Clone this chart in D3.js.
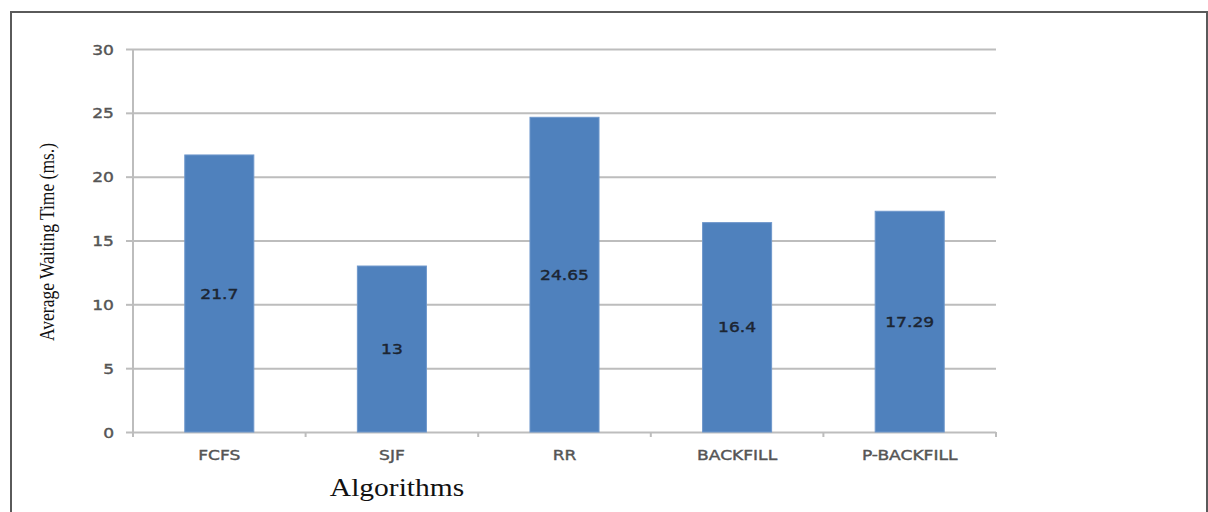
<!DOCTYPE html>
<html>
<head>
<meta charset="utf-8">
<script src="https://cdn.jsdelivr.net/npm/d3@7"></script>
<style>
  html, body { margin: 0; padding: 0; background: #fff; }
  svg { display: block; }
</style>
</head>
<body>
<svg id="chart" width="1208" height="512"></svg>
<script>
// Average waiting time per scheduling algorithm
const categories = ["FCFS", "SJF", "RR", "BACKFILL", "P-BACKFILL"];
const waitingTimes = [21.7, 13, 24.65, 16.4, 17.29];
const valueLabels = ["21.7", "13", "24.65", "16.4", "17.29"];
const yTicks = [0, 5, 10, 15, 20, 25, 30];

const svg = d3.select("#chart");
const W = 1208, H = 512;
const plot = { left: 133, right: 996, top: 49, bottom: 432 };

// Outer frame
svg.append("path")
  .attr("d", `M11,${H + 5} V12 H1207 V${H + 5}`)
  .attr("fill", "none")
  .attr("stroke", "#5a5a5a")
  .attr("stroke-width", 2);

const x = d3.scaleBand()
  .domain(categories)
  .range([plot.left, plot.right])
  .paddingInner(0.6)
  .paddingOuter(0.3);

const y = d3.scaleLinear()
  .domain([0, 30])
  .range([plot.bottom, plot.top]);

const sansFont = "'DejaVu Sans', Verdana, sans-serif";
const serifFont = "'Liberation Serif', 'Times New Roman', serif";
const stretch = 1.22;

// Shared style for the small sans labels
function sansLabel(sel, color) {
  return sel
    .attr("fill", color)
    .attr("stroke", color)
    .attr("stroke-width", 0.4)
    .style("font-family", sansFont)
    .style("font-size", "14px");
}

// Horizontal gridlines with left tick marks
const yAxis = svg.append("g")
  .attr("transform", `translate(${plot.left},0)`)
  .call(d3.axisLeft(y).tickValues(yTicks).tickSize(7).tickPadding(0).tickFormat(""));
yAxis.select(".domain").remove();
yAxis.selectAll(".tick line").attr("stroke", "#bdbdbd").attr("stroke-width", 2);
yAxis.selectAll(".tick").append("line")
  .attr("x1", 0).attr("x2", plot.right - plot.left)
  .attr("stroke", "#bdbdbd").attr("stroke-width", 2);
yAxis.selectAll(".tick").append("text")
  .attr("transform", `translate(-19,0) scale(${stretch},1)`)
  .attr("text-anchor", "end")
  .attr("dy", "0.36em")
  .call(sansLabel, "#555555")
  .text(d => d);

// Vertical axis line
svg.append("line")
  .attr("x1", plot.left).attr("x2", plot.left)
  .attr("y1", plot.top).attr("y2", plot.bottom + 5)
  .attr("stroke", "#bdbdbd").attr("stroke-width", 2);

// Category boundary ticks along the baseline
const bounds = d3.range(categories.length + 1).map(i => plot.left + i * (plot.right - plot.left) / categories.length);
svg.append("g").selectAll("line")
  .data(bounds)
  .join("line")
  .attr("x1", d => d).attr("x2", d => d)
  .attr("y1", plot.bottom).attr("y2", plot.bottom + 5)
  .attr("stroke", "#bdbdbd").attr("stroke-width", 2);

// Bars
svg.append("g").selectAll("rect")
  .data(categories)
  .join("rect")
  .attr("x", d => x(d))
  .attr("y", (d, i) => y(waitingTimes[i]))
  .attr("width", x.bandwidth())
  .attr("height", (d, i) => y(0) - y(waitingTimes[i]))
  .attr("fill", "#4f81bd")
  .attr("stroke", "#6e97cb")
  .attr("stroke-width", 1);

// Value labels centred inside each bar
svg.append("g").selectAll("text")
  .data(categories)
  .join("text")
  .attr("transform", (d, i) => `translate(${x(d) + x.bandwidth() / 2},${(y(waitingTimes[i]) + y(0)) / 2}) scale(${stretch},1)`)
  .attr("text-anchor", "middle")
  .attr("dy", "0.36em")
  .call(sansLabel, "#1c2532")
  .text((d, i) => valueLabels[i]);

// Category labels
svg.append("g").selectAll("text")
  .data(categories)
  .join("text")
  .attr("transform", d => `translate(${x(d) + x.bandwidth() / 2},${plot.bottom + 23}) scale(${stretch},1)`)
  .attr("text-anchor", "middle")
  .attr("dy", "0.36em")
  .call(sansLabel, "#555555")
  .text(d => d);

// Axis titles
svg.append("text")
  .attr("transform", "translate(397,496) scale(1.18,1)")
  .attr("text-anchor", "middle")
  .attr("fill", "#111")
  .style("font-family", serifFont)
  .style("font-size", "25px")
  .text("Algorithms");

svg.append("text")
  .attr("transform", "translate(48,242) rotate(-90) scale(1,1.15)")
  .attr("text-anchor", "middle")
  .attr("dy", "0.32em")
  .attr("fill", "#111")
  .style("font-family", serifFont)
  .style("font-size", "17.5px")
  .text("Average Waiting Time (ms.)");
</script>
</body>
</html>
